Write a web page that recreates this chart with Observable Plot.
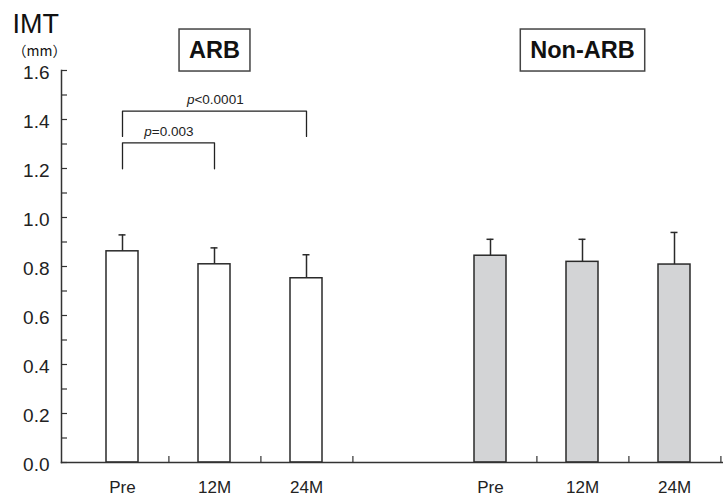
<!DOCTYPE html>
<html><head><meta charset="utf-8">
<script src="https://cdn.jsdelivr.net/npm/d3@7"></script>
<script src="https://cdn.jsdelivr.net/npm/@observablehq/plot@0.6"></script>
<style>body{margin:0;background:#fff} svg{display:block}</style>
</head><body><div id="chart"></div>
<script>
// ---- data ----
const slots = ["ARB-Pre","ARB-12M","ARB-24M","gap","Non-Pre","Non-12M","Non-24M"];
const barKeys = ["ARB-Pre","ARB-12M","ARB-24M","Non-Pre","Non-12M","Non-24M"];
const groups = ["ARB","ARB","ARB","Non-ARB","Non-ARB","Non-ARB"];
const periods = ["Pre","12M","24M","Pre","12M","24M"];
const means = [0.862,0.809,0.752,0.844,0.819,0.808];
const upperSD = [0.929,0.876,0.848,0.911,0.911,0.939];
const yTicks = [0,0.2,0.4,0.6,0.8,1.0,1.2,1.4,1.6];
const yMinorTicks = [0,0.1,0.2,0.3,0.4,0.5,0.6,0.7,0.8,0.9,1.0,1.1,1.2,1.3,1.4,1.5,1.6];
const groupNames = ["ARB","Non-ARB"];
const groupLabelAt = ["ARB-12M","Non-12M"];
const bracketFrom = ["ARB-Pre","ARB-Pre"];
const bracketTo = ["ARB-24M","ARB-12M"];
const bracketTop = [1.434,1.305];
const bracketBottom = [1.331,1.199];
const bracketLabel = ["<0.0001","=0.003"];

// ---- layout ----
const W = 723, H = 498;
const xRange = [105.6, 694.3];
const padInner = 0.656;
const step = (xRange[1]-xRange[0])/(slots.length - padInner);
const font = "'Liberation Sans', Arial, sans-serif";
const ink = "#222";

const bars = barKeys.map((k,i)=>({key:k, group:groups[i], period:periods[i], mean:means[i], upper:upperSD[i]}));
const bracketPts = bracketFrom.flatMap((f,i)=>[
  {id:i, x:f, y:bracketBottom[i]},
  {id:i, x:f, y:bracketTop[i]},
  {id:i, x:bracketTo[i], y:bracketTop[i]},
  {id:i, x:bracketTo[i], y:bracketBottom[i]}
]);
const labelOf = Object.fromEntries(barKeys.map((k,i)=>[k, periods[i]]));

const pTexts = bracketFrom.map((f,i)=>Plot.text([i], {
  x: () => f, y: () => bracketTop[i],
  dx: (slots.indexOf(bracketTo[i]) - slots.indexOf(f))*step/2,
  dy: -11, text: () => bracketLabel[i], fontSize: 13.5, fill: ink
}));

const svg = Plot.plot({
  width: W, height: H,
  marginLeft: 61, marginRight: 0, marginTop: 70, marginBottom: 36,
  style: {fontFamily: font, color: ink, background: "white"},
  x: {domain: slots, range: xRange, paddingInner: padInner, paddingOuter: 0, align: 0, label: null},
  y: {domain: [0, 1.6], label: null},
  color: {domain: groupNames, range: ["#ffffff", "#d3d4d6"]},
  marks: [
    Plot.barY(bars, {x: "key", y: "mean", fill: "group", stroke: "#2a2a2a", strokeWidth: 1.5}),
    Plot.ruleX(bars, {x: "key", y1: "mean", y2: "upper", stroke: "#2a2a2a", strokeWidth: 1.5}),
    Plot.tickY(bars, {x: "key", y: "upper", stroke: "#2a2a2a", strokeWidth: 1.5, insetLeft: 12.5, insetRight: 12.5}),
    Plot.line(bracketPts, {x: "x", y: "y", z: "id", stroke: ink, strokeWidth: 1.3}),
    ...pTexts,
    // axes
    Plot.axisY(yMinorTicks, {tickSize: -6, tickFormat: () => "", stroke: "#333", strokeWidth: 1.2}),
    Plot.axisY(yTicks, {tickSize: 0, tickPadding: 12, tickFormat: d3.format(".1f"), fontSize: 19, dy: 2, fill: ink}),
    Plot.axisX(barKeys.slice(0,6), {tickSize: -6, tickFormat: () => "", dx: step/2, stroke: "#333", strokeWidth: 1.2}),
    Plot.axisX(barKeys, {tickSize: 0, tickPadding: 18, tickFormat: d => labelOf[d], fontSize: 17, fill: ink,
      style: {letterSpacing: "1px"}}),
    Plot.frame({anchor: "left", stroke: "#333", strokeWidth: 1.5}),
    Plot.frame({anchor: "bottom", stroke: "#333", strokeWidth: 1.5}),
    // group labels
    Plot.text(groupNames, {x: (d,i) => groupLabelAt[i], frameAnchor: "top", dy: -20, text: d => d,
      fontSize: 23.5, fontWeight: "bold", fill: "#111", lineAnchor: "middle"}),
    // y axis title
    Plot.text(["IMT"], {frameAnchor: "top-left", dx: -49, dy: -46, text: d => d, fontSize: 27, textAnchor: "start", lineAnchor: "middle", fill: "#111"}),
    Plot.text(["（mm）"], {frameAnchor: "top-left", dx: -49, dy: -19, text: d => d, fontSize: 14, textAnchor: "start", lineAnchor: "middle", fill: "#111",
      fontFamily: "'Noto Sans CJK JP', sans-serif"})
  ]
});
document.getElementById("chart").append(svg);

const allText = d3.select(svg).selectAll("text");
// italic p in p-value labels
allText.filter(function(){ return bracketLabel.includes(this.textContent); }).each(function(){
  const t = this.textContent; this.textContent = "";
  d3.select(this).append("tspan").attr("font-style","italic").text("p");
  d3.select(this).append("tspan").text(t);
});
// boxes around group labels
allText.filter(function(){ return groupNames.includes(this.textContent); }).each(function(){
  const b = this.getBBox();
  const cy = b.y + b.height/2;
  d3.select(this.parentNode).insert("rect", () => this)
    .attr("transform", this.getAttribute("transform"))
    .attr("x", b.x - 10).attr("y", cy - 21).attr("width", b.width + 20).attr("height", 42)
    .attr("fill", "white").attr("stroke", "#444").attr("stroke-width", 1.5);
});
</script>
</body></html>
